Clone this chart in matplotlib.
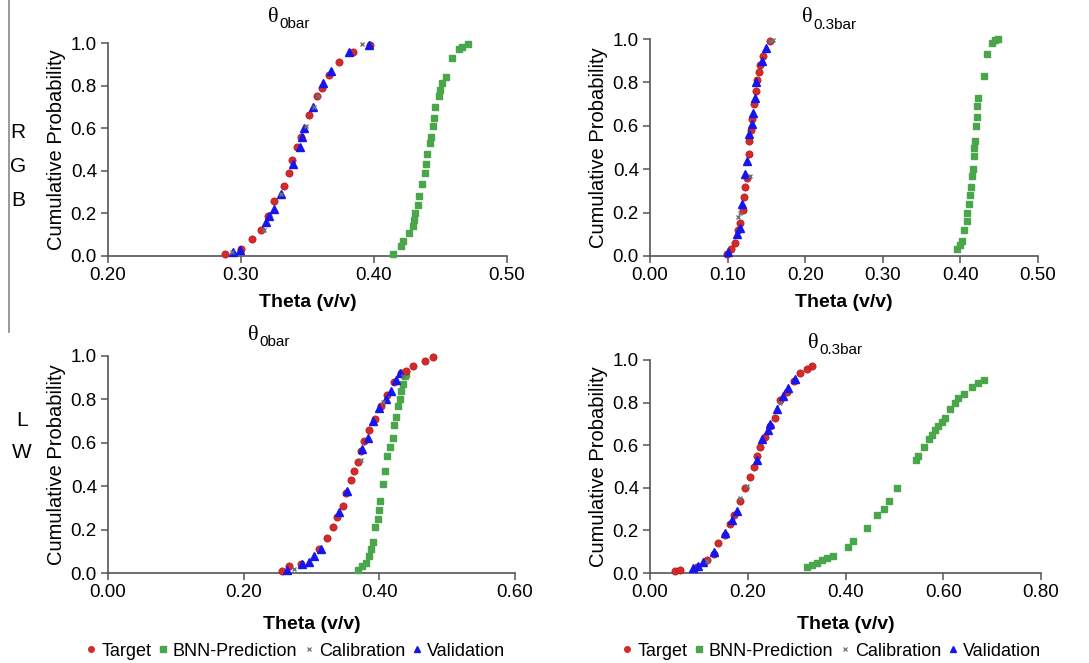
import matplotlib
matplotlib.use("Agg")
import matplotlib.pyplot as plt
from matplotlib.lines import Line2D

plt.rcParams['font.family'] = ['Liberation Sans', 'DejaVu Sans']

# ---- RGB, theta at 0 bar ----
rgb0_target_x = [0.288, 0.300, 0.308, 0.315, 0.320, 0.325, 0.332, 0.336, 0.338, 0.342, 0.345,
                 0.351, 0.357, 0.361, 0.366, 0.374, 0.384, 0.397]
rgb0_target_y = [0.01, 0.035, 0.08, 0.12, 0.19, 0.26, 0.33, 0.39, 0.45, 0.51, 0.56,
                 0.66, 0.75, 0.79, 0.85, 0.91, 0.96, 0.99]
rgb0_bnn_x = [0.414, 0.420, 0.422, 0.426, 0.429, 0.430, 0.431, 0.433, 0.434, 0.436, 0.438, 0.439,
              0.440, 0.442, 0.443, 0.444, 0.445, 0.446, 0.449, 0.450, 0.451, 0.454, 0.459, 0.464,
              0.466, 0.471]
rgb0_bnn_y = [0.01, 0.045, 0.07, 0.11, 0.14, 0.17, 0.20, 0.24, 0.28, 0.34, 0.39, 0.43,
              0.48, 0.53, 0.56, 0.61, 0.65, 0.70, 0.75, 0.78, 0.81, 0.84, 0.93, 0.97,
              0.98, 0.997]
rgb0_cal_x = [0.293, 0.317, 0.330, 0.349, 0.355, 0.358, 0.391]
rgb0_cal_y = [0.02, 0.12, 0.29, 0.61, 0.70, 0.75, 0.997]
rgb0_val_x = [0.294, 0.299, 0.319, 0.321, 0.325, 0.330, 0.339, 0.344, 0.346, 0.347, 0.354,
              0.362, 0.368, 0.381, 0.396]
rgb0_val_y = [0.02, 0.03, 0.16, 0.19, 0.22, 0.29, 0.43, 0.51, 0.56, 0.60, 0.70,
              0.81, 0.87, 0.96, 0.99]

# ---- RGB, theta at 0.3 bar ----
rgb3_target_x = [0.099, 0.105, 0.110, 0.114, 0.116, 0.120, 0.121, 0.123, 0.125, 0.127, 0.128,
                 0.130, 0.132, 0.134, 0.137, 0.138, 0.140, 0.142, 0.145, 0.155]
rgb3_target_y = [0.01, 0.03, 0.06, 0.12, 0.15, 0.21, 0.27, 0.32, 0.36, 0.47, 0.53,
                 0.58, 0.63, 0.70, 0.76, 0.81, 0.85, 0.88, 0.92, 0.99]
rgb3_bnn_x = [0.396, 0.399, 0.402, 0.405, 0.408, 0.408, 0.411, 0.412, 0.414, 0.415, 0.416, 0.417,
              0.418, 0.419, 0.420, 0.421, 0.422, 0.423, 0.430, 0.434, 0.441, 0.445, 0.449]
rgb3_bnn_y = [0.03, 0.05, 0.07, 0.12, 0.16, 0.20, 0.24, 0.28, 0.32, 0.37, 0.40, 0.46,
              0.50, 0.53, 0.60, 0.64, 0.69, 0.73, 0.83, 0.93, 0.98, 0.997, 1.0]
rgb3_cal_x = [0.114, 0.116, 0.129, 0.155, 0.159]
rgb3_cal_y = [0.18, 0.20, 0.37, 0.99, 0.995]
rgb3_val_x = [0.101, 0.112, 0.116, 0.118, 0.123, 0.125, 0.128, 0.131, 0.133, 0.135, 0.137,
              0.144, 0.150]
rgb3_val_y = [0.02, 0.10, 0.13, 0.24, 0.38, 0.44, 0.56, 0.61, 0.66, 0.73, 0.80,
              0.90, 0.96]

# ---- LW, theta at 0 bar ----
lw0_target_x = [0.256, 0.267, 0.284, 0.311, 0.323, 0.331, 0.338, 0.346, 0.351, 0.358, 0.363,
                0.368, 0.373, 0.378, 0.385, 0.393, 0.403, 0.412, 0.422, 0.432, 0.440, 0.449,
                0.467, 0.479]
lw0_target_y = [0.008, 0.03, 0.04, 0.11, 0.16, 0.21, 0.26, 0.31, 0.37, 0.43, 0.47,
                0.51, 0.56, 0.61, 0.66, 0.71, 0.77, 0.82, 0.88, 0.92, 0.93, 0.955,
                0.977, 0.995]
lw0_bnn_x = [0.368, 0.375, 0.380, 0.385, 0.387, 0.390, 0.394, 0.398, 0.400, 0.401, 0.405, 0.409,
             0.412, 0.416, 0.420, 0.422, 0.425, 0.427, 0.430, 0.432, 0.435, 0.438, 0.440]
lw0_bnn_y = [0.015, 0.03, 0.045, 0.08, 0.11, 0.145, 0.21, 0.25, 0.29, 0.33, 0.41, 0.47,
             0.54, 0.58, 0.62, 0.68, 0.72, 0.77, 0.80, 0.84, 0.87, 0.91, 0.915]
lw0_cal_x = [0.274, 0.373, 0.405, 0.435]
lw0_cal_y = [0.02, 0.52, 0.79, 0.91]
lw0_val_x = [0.264, 0.286, 0.296, 0.304, 0.314, 0.341, 0.353, 0.375, 0.383, 0.390, 0.400,
             0.410, 0.417, 0.425, 0.430]
lw0_val_y = [0.012, 0.04, 0.05, 0.08, 0.11, 0.28, 0.38, 0.57, 0.62, 0.70, 0.76,
             0.80, 0.84, 0.89, 0.92]

# ---- LW, theta at 0.3 bar ----
lw3_target_x = [0.051, 0.061, 0.096, 0.116, 0.130, 0.140, 0.154, 0.164, 0.171, 0.184, 0.195,
                0.205, 0.212, 0.218, 0.225, 0.235, 0.246, 0.256, 0.266, 0.280, 0.294, 0.307,
                0.321, 0.331]
lw3_target_y = [0.008, 0.012, 0.03, 0.06, 0.09, 0.14, 0.18, 0.23, 0.27, 0.34, 0.40,
                0.45, 0.50, 0.55, 0.59, 0.64, 0.69, 0.73, 0.81, 0.85, 0.90, 0.94,
                0.956, 0.97]
lw3_bnn_x = [0.321, 0.331, 0.341, 0.352, 0.362, 0.375, 0.406, 0.416, 0.444, 0.464, 0.478, 0.488,
             0.505, 0.545, 0.549, 0.560, 0.570, 0.577, 0.584, 0.590, 0.597, 0.604, 0.614,
             0.625, 0.631, 0.642, 0.659, 0.672, 0.683]
lw3_bnn_y = [0.03, 0.036, 0.047, 0.06, 0.07, 0.08, 0.12, 0.15, 0.21, 0.27, 0.30, 0.34,
             0.40, 0.53, 0.55, 0.59, 0.63, 0.65, 0.67, 0.69, 0.71, 0.73, 0.77,
             0.80, 0.82, 0.84, 0.875, 0.89, 0.906]
lw3_cal_x = [0.116, 0.184, 0.198, 0.266]
lw3_cal_y = [0.055, 0.35, 0.41, 0.80]
lw3_val_x = [0.089, 0.099, 0.109, 0.130, 0.154, 0.167, 0.177, 0.218, 0.229, 0.242, 0.246,
             0.259, 0.273, 0.283, 0.297]
lw3_val_y = [0.025, 0.035, 0.05, 0.10, 0.19, 0.25, 0.29, 0.53, 0.63, 0.67, 0.70,
             0.77, 0.83, 0.87, 0.91]

series_names = ['Target', 'BNN-Prediction', 'Calibration', 'Validation']
x_tick_sets = [[0.20, 0.30, 0.40, 0.50], [0.00, 0.10, 0.20, 0.30, 0.40, 0.50],
               [0.00, 0.20, 0.40, 0.60], [0.00, 0.20, 0.40, 0.60, 0.80]]
y_ticks = [0.0, 0.2, 0.4, 0.6, 0.8, 1.0]

RED = '#d42a2a'
GREEN = '#4aa64a'
BLUE = '#1515ee'
GRAY = '#707070'

W, H = 1089, 663
fig = plt.figure(figsize=(W / 100, H / 100), dpi=100)


def px_axes(left, top, right, bottom):
    return fig.add_axes([left / W, 1 - bottom / H, (right - left) / W, (bottom - top) / H])


# title anchor: (x where theta ends / subscript starts, y of theta centre)
panels = [
    dict(box=(108, 43, 507, 256), ticks=x_tick_sets[0], sub='0bar',
         t=(rgb0_target_x, rgb0_target_y), b=(rgb0_bnn_x, rgb0_bnn_y),
         c=(rgb0_cal_x, rgb0_cal_y), v=(rgb0_val_x, rgb0_val_y),
         title=(279, 17), xpad=7),
    dict(box=(650, 39, 1038, 256), ticks=x_tick_sets[1], sub='0.3bar',
         t=(rgb3_target_x, rgb3_target_y), b=(rgb3_bnn_x, rgb3_bnn_y),
         c=(rgb3_cal_x, rgb3_cal_y), v=(rgb3_val_x, rgb3_val_y),
         title=(813, 18), xpad=7),
    dict(box=(108, 356, 515, 573), ticks=x_tick_sets[2], sub='0bar',
         t=(lw0_target_x, lw0_target_y), b=(lw0_bnn_x, lw0_bnn_y),
         c=(lw0_cal_x, lw0_cal_y), v=(lw0_val_x, lw0_val_y),
         title=(259, 335), xpad=11),
    dict(box=(650, 360, 1041, 573), ticks=x_tick_sets[3], sub='0.3bar',
         t=(lw3_target_x, lw3_target_y), b=(lw3_bnn_x, lw3_bnn_y),
         c=(lw3_cal_x, lw3_cal_y), v=(lw3_val_x, lw3_val_y),
         title=(819, 343), xpad=11),
]

axes = []
for p in panels:
    ax = px_axes(*p['box'])
    axes.append(ax)
    ax.plot(*p['b'], ls='none', marker='s', ms=4.8, color=GREEN, mec=GREEN, clip_on=False,
            label=series_names[1], zorder=3)
    ax.plot(*p['t'], ls='none', marker='o', ms=5.2, color=RED, mec='#b01818', mew=0.5,
            clip_on=False, label=series_names[0], zorder=4)
    ax.plot(*p['v'], ls='none', marker='^', ms=5.2, color=BLUE, mec=BLUE, clip_on=False,
            label=series_names[3], zorder=5)
    ax.plot(*p['c'], ls='none', marker='x', ms=3.5, mew=1.0, color=GRAY, clip_on=False,
            label=series_names[2], zorder=6)
    ax.set_xlim(p['ticks'][0], p['ticks'][-1])
    ax.set_ylim(0, 1)
    ax.set_xticks(p['ticks'])
    ax.set_xticklabels([f'{v:.2f}' for v in p['ticks']])
    ax.set_yticks(y_ticks)
    ax.set_yticklabels([f'{v:.1f}' for v in y_ticks])
    for s in ('top', 'right'):
        ax.spines[s].set_visible(False)
    for s in ('left', 'bottom'):
        ax.spines[s].set_color('#555555')
        ax.spines[s].set_linewidth(1.2)
    ax.tick_params(axis='both', direction='out', length=5, width=1.1, color='#555555',
                   labelsize=13.5, pad=3)
    ax.set_xlabel('Theta (v/v)', fontsize=14, fontweight='bold', labelpad=p['xpad'])
    ax.set_ylabel('Cumulative Probability', fontsize=14.5, labelpad=3)
    tx, ty = p['title']
    fig.text(tx / W, 1 - ty / H, 'θ', family='Liberation Serif', fontsize=16,
             ha='right', va='center')
    fig.text(tx / W, 1 - (ty + 7) / H, p['sub'], fontsize=11, ha='left', va='center')

# group labels on the left
for letter, y in zip(['R', 'G', 'B'], [133, 167, 200]):
    fig.text(18 / W, 1 - y / H, letter, fontsize=15, ha='center', va='center')
for letter, y in zip(['L', 'W'], [420, 452]):
    fig.text(22 / W, 1 - y / H, letter, fontsize=15, ha='center', va='center')
fig.add_artist(Line2D([9 / W, 9 / W], [1.0, 1 - 332 / H], color='#888888', lw=1.2))

# legends under the bottom panels
handles = [
    Line2D([], [], ls='none', marker='o', ms=4, color=RED),
    Line2D([], [], ls='none', marker='s', ms=4, color=GREEN),
    Line2D([], [], ls='none', marker='x', ms=3.5, mew=0.9, color=GRAY),
    Line2D([], [], ls='none', marker='^', ms=4.5, color=BLUE),
]
for ax, cx in zip(axes[2:], [296, 832]):
    fig.legend(handles, series_names, loc='center', ncol=4, frameon=False,
               bbox_to_anchor=(cx / W, 1 - 651 / H), fontsize=13, handlelength=0.5,
               handletextpad=0.3, columnspacing=0.4, borderaxespad=0)

fig.savefig('out.png', dpi=100)
